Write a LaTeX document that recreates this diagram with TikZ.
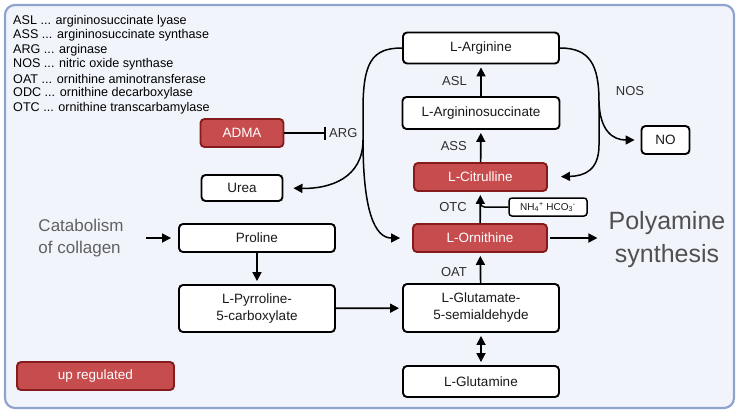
\documentclass[tikz,border=0pt]{standalone}
\usepackage{fontspec}
\setmainfont{Liberation Sans}
\usepackage{xcolor}
\usetikzlibrary{positioning}
\usetikzlibrary{arrows.meta}

\definecolor{upred}{HTML}{C64C4E}
\definecolor{upborder}{HTML}{861B1E}
\definecolor{panel}{HTML}{F1F5FB}
\definecolor{frame}{HTML}{8FA3CF}
\definecolor{labelgray}{HTML}{2E2E2E}
\definecolor{bigtext}{HTML}{505050}

\begin{document}
\begin{tikzpicture}[x=1pt,y=-1pt,
    box/.style={draw=black, line width=1.9pt, rounded corners=4pt, fill=white,
      inner sep=0pt, align=center, text=black!90, font=\fontsize{13.5}{17}\selectfont},
    upbox/.style={box, draw=upborder, fill=upred, text=white},
    arr/.style={-{Triangle[length=9pt,width=9pt]}, line width=1.7pt, shorten >=3pt},
    enz/.style={inner sep=0pt, text=labelgray, font=\fontsize{13}{15}\selectfont}]
  \useasboundingbox (0,0) rectangle (739,413);
  \draw[frame, line width=2.2pt, fill=panel, rounded corners=10pt] (5,5) rectangle (734,408);

  % abbreviations
  \foreach \ab/\nm [count=\k] in {ASL/argininosuccinate lyase, ASS/argininosuccinate synthase,
      ARG/arginase, NOS/nitric oxide synthase, OAT/ornithine aminotransferase,
      ODC/ornithine decarboxylase, OTC/ornithine transcarbamylase} {
    \pgfmathsetmacro\yy{21+14.5*(\k-1)}
    \node[anchor=west, inner sep=0pt, font=\fontsize{12.6}{14}\selectfont] (leg\k) at (13,\yy) {\ab{} ... \nm};
  }

  % boxes
  \node[box, minimum width=156pt, minimum height=31pt] (arg) at (481,48) {L-Arginine};
  \node[box, minimum width=157pt, minimum height=32pt] (asuc) at (481,113) {L-Argininosuccinate};
  \node[upbox, minimum width=133pt, minimum height=28pt] (cit) at (480.5,177) {L-Citrulline};
  \node[box, line width=1.5pt, rounded corners=3pt, minimum width=78pt, minimum height=18pt,
    font=\fontsize{10}{12}\selectfont] (nh) at (548,207) {NH\textsubscript{4}\textsuperscript{+} HCO\textsubscript{3}\textsuperscript{-}};
  \node[upbox, minimum width=134pt, minimum height=28pt] (orn) at (480,238) {L-Ornithine};
  \node[box, minimum width=156pt, minimum height=48pt] (glu) at (481,308) {L-Glutamate-\\5-semialdehyde};
  \node[box, minimum width=156pt, minimum height=31pt] (gln) at (481,381.5) {L-Glutamine};
  \node[box, minimum width=156pt, minimum height=28pt] (pro) at (257,238) {Proline};
  \node[box, minimum width=156pt, minimum height=47pt] (p5c) at (257,308.5) {L-Pyrroline-\\5-carboxylate};
  \node[box, minimum width=81pt, minimum height=26pt] (urea) at (242,188) {Urea};
  \node[upbox, minimum width=83pt, minimum height=28pt] (adma) at (242,133) {ADMA};
  \node[box, minimum width=48pt, minimum height=28pt] (no) at (665.5,140) {NO};
  \node[upbox, minimum width=157pt, minimum height=28pt] (upreg) at (95.5,376) {up regulated};

  % free texts
  \node[inner sep=0pt, align=left, text=bigtext!90, font=\fontsize{17}{22}\selectfont] (cat) at (81,238) {Catabolism\\of collagen};
  \node[inner sep=0pt, align=center, text=bigtext, font=\fontsize{25}{33}\selectfont] (poly) at (667,240) {Polyamine\\synthesis};

  % enzymes
  \node[enz, anchor=east] (asl) at (467,81) {ASL};
  \node[enz, anchor=east] (ass) at (467,146) {ASS};
  \node[enz, anchor=east] (otc) at (467,207) {OTC};
  \node[enz, anchor=east] (oat) at (467,272) {OAT};
  \node[enz] (nos) at (630,91) {NOS};
  \node[enz, anchor=west] (argi) at (329,133) {ARG};

  % straight steps
  \draw[arr] (asuc) -- (arg);
  \draw[arr] (cit) -- (asuc);
  \draw[arr] (orn) -- (cit);
  \draw[arr] (glu) -- (orn);
  \draw[arr, {Triangle[length=9pt,width=9pt]}-{Triangle[length=9pt,width=9pt]}, shorten <=3pt] (glu) -- (gln);
  \draw[arr] (pro) -- (p5c);
  \draw[arr] (p5c) -- (glu);
  \draw[arr, shorten <=22pt, shorten >=7pt] (cat.east) -- (pro.west);
  \draw[arr, shorten <=2pt, shorten >=11pt] (orn.east) -- (poly.west |- orn.east);
  \draw[line width=1.5pt, rounded corners=4pt] (nh.west) -| ([yshift=-8pt]cit.south);
  \draw[line width=1.7pt, -{Bar[width=13pt,line width=1.7pt]}, shorten >=3pt] (adma.east) -- (argi.west);

  % arginine splits
  \coordinate (lsplit) at (363,140);
  \coordinate (rsplit) at (599,102);
  \draw[line width=1.5pt] (arg.west) .. controls (372,48) and (363,62) .. (363,110) -- (lsplit);
  \draw[arr, line width=1.5pt, shorten >=10pt] (lsplit) .. controls (363,178) and (330,189) .. (urea.east);
  \draw[arr, line width=1.5pt, shorten >=12pt] (lsplit) .. controls (363,212) and (375,238) .. (orn.west);
  \draw[line width=1.5pt] (arg.east) .. controls (590,48) and (599,65) .. (rsplit);
  \draw[arr, line width=1.5pt, shorten >=6pt] (rsplit) .. controls (600,130) and (612,140) .. (no.west);
  \draw[arr, line width=1.5pt, shorten >=13pt] (rsplit) -- (599,145) .. controls (599,170) and (585,176) .. (cit.east);
\end{tikzpicture}
\end{document}
